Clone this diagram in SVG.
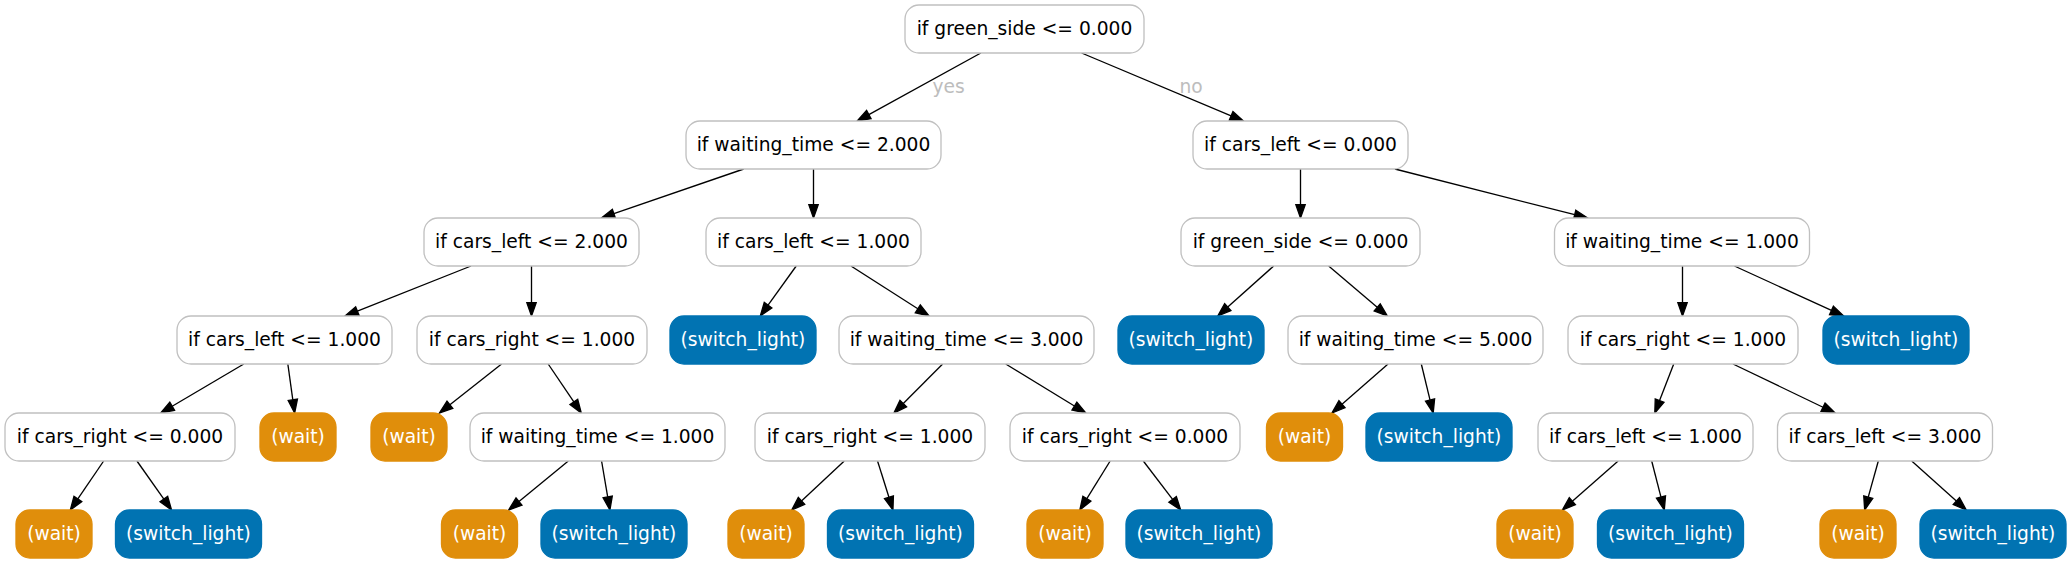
<svg xmlns="http://www.w3.org/2000/svg" width="2069" height="564" viewBox="0 0 2069 564">
<style>
text{font-family:"DejaVu Sans","Liberation Sans",sans-serif;font-size:18.67px;text-anchor:middle}
.d rect{fill:#fff;stroke:#c0c0c0;stroke-width:1.33}
.w rect{fill:#e08e0b;stroke:#e08e0b;stroke-width:1.33}
.s rect{fill:#0173b2;stroke:#0173b2;stroke-width:1.33}
.d text{fill:#000}
.w text,.s text{fill:#fff}
#edges line{stroke:#000;stroke-width:1.33;marker-end:url(#ah)}
.lbl{fill:#bdbdbd}
</style>
<defs>
<marker id="ah" markerUnits="userSpaceOnUse" markerWidth="16" markerHeight="12" refX="0" refY="4.67" orient="auto" overflow="visible">
<path d="M0,0 L13.33,4.67 L0,9.33 z" fill="#000" stroke="#000" stroke-width="1.33"/>
</marker>
</defs>
<rect width="2069" height="564" fill="#fff"/>
<g id="edges">
<line x1="980.84" y1="53" x2="868.84" y2="114.58"/>
<line x1="1081.6" y1="53" x2="1231.1" y2="115.84"/>
<line x1="743.73" y1="169" x2="613.88" y2="213.66"/>
<line x1="813.5" y1="169" x2="813.5" y2="204.67"/>
<line x1="1300.5" y1="169" x2="1300.5" y2="204.67"/>
<line x1="1394.88" y1="169" x2="1574.7" y2="214.71"/>
<line x1="471.01" y1="266" x2="357.38" y2="311.08"/>
<line x1="531.5" y1="266" x2="531.5" y2="302.67"/>
<line x1="796.23" y1="266" x2="768.06" y2="305.18"/>
<line x1="850.97" y1="266" x2="917.8" y2="308.81"/>
<line x1="1273.68" y1="266" x2="1227.75" y2="307.11"/>
<line x1="1328.66" y1="266" x2="1377.19" y2="307.35"/>
<line x1="1682.5" y1="266" x2="1682.5" y2="302.67"/>
<line x1="1734.41" y1="266" x2="1831.47" y2="310.45"/>
<line x1="243.8" y1="364" x2="172.18" y2="406.23"/>
<line x1="287.84" y1="364" x2="292.82" y2="399.8"/>
<line x1="501.57" y1="364" x2="449.9" y2="404.74"/>
<line x1="548.2" y1="364" x2="573.84" y2="401.95"/>
<line x1="942.63" y1="364" x2="903.27" y2="403.55"/>
<line x1="1005.71" y1="364" x2="1074.42" y2="406.04"/>
<line x1="1388.04" y1="364" x2="1342.0" y2="404.23"/>
<line x1="1421.31" y1="364" x2="1430.05" y2="400.04"/>
<line x1="1673.72" y1="364" x2="1659.59" y2="400.57"/>
<line x1="1732.97" y1="364" x2="1823.01" y2="407.23"/>
<line x1="103.67" y1="461" x2="77.83" y2="498.98"/>
<line x1="136.95" y1="461" x2="163.86" y2="499.11"/>
<line x1="568.31" y1="461" x2="518.99" y2="501.53"/>
<line x1="601.58" y1="461" x2="607.68" y2="496.86"/>
<line x1="844.27" y1="461" x2="801.48" y2="500.91"/>
<line x1="877.55" y1="461" x2="888.95" y2="497.29"/>
<line x1="1110.16" y1="461" x2="1086.85" y2="498.66"/>
<line x1="1143.31" y1="461" x2="1172.6" y2="499.4"/>
<line x1="1618.16" y1="461" x2="1572.36" y2="501.21"/>
<line x1="1651.69" y1="461" x2="1660.98" y2="497.09"/>
<line x1="1878.32" y1="461" x2="1868.25" y2="497.16"/>
<line x1="1911.72" y1="461" x2="1956.36" y2="501.1"/>
<text class="lbl" x="948.5" y="93">yes</text>
<text class="lbl" x="1191" y="93">no</text>
</g>
<g id="n0" class="d"><rect x="905" y="5" width="239" height="48" rx="14"/><text x="1024.5" y="35">if green_side &lt;= 0.000</text></g>
<g id="n1" class="d"><rect x="686" y="121" width="255" height="48" rx="14"/><text x="813.5" y="151">if waiting_time &lt;= 2.000</text></g>
<g id="n2" class="d"><rect x="1193" y="121" width="215" height="48" rx="14"/><text x="1300.5" y="151">if cars_left &lt;= 0.000</text></g>
<g id="n3" class="d"><rect x="424" y="218" width="215" height="48" rx="14"/><text x="531.5" y="248">if cars_left &lt;= 2.000</text></g>
<g id="n4" class="d"><rect x="706" y="218" width="215" height="48" rx="14"/><text x="813.5" y="248">if cars_left &lt;= 1.000</text></g>
<g id="n5" class="d"><rect x="1181" y="218" width="239" height="48" rx="14"/><text x="1300.5" y="248">if green_side &lt;= 0.000</text></g>
<g id="n6" class="d"><rect x="1554.5" y="218" width="255" height="48" rx="14"/><text x="1682" y="248">if waiting_time &lt;= 1.000</text></g>
<g id="n7" class="d"><rect x="177" y="316" width="215" height="48" rx="14"/><text x="284.5" y="346">if cars_left &lt;= 1.000</text></g>
<g id="n8" class="d"><rect x="417" y="316" width="230" height="48" rx="14"/><text x="532" y="346">if cars_right &lt;= 1.000</text></g>
<g id="n9" class="s"><rect x="670" y="316" width="146" height="48" rx="14"/><text x="743" y="346">(switch_light)</text></g>
<g id="n10" class="d"><rect x="839" y="316" width="255" height="48" rx="14"/><text x="966.5" y="346">if waiting_time &lt;= 3.000</text></g>
<g id="n11" class="s"><rect x="1118" y="316" width="146" height="48" rx="14"/><text x="1191" y="346">(switch_light)</text></g>
<g id="n12" class="d"><rect x="1288" y="316" width="255" height="48" rx="14"/><text x="1415.5" y="346">if waiting_time &lt;= 5.000</text></g>
<g id="n13" class="d"><rect x="1568" y="316" width="230" height="48" rx="14"/><text x="1683" y="346">if cars_right &lt;= 1.000</text></g>
<g id="n14" class="s"><rect x="1823" y="316" width="146" height="48" rx="14"/><text x="1896" y="346">(switch_light)</text></g>
<g id="n15" class="d"><rect x="5" y="413" width="230" height="48" rx="14"/><text x="120" y="443">if cars_right &lt;= 0.000</text></g>
<g id="n16" class="w"><rect x="260" y="413" width="76" height="48" rx="14"/><text x="298" y="443">(wait)</text></g>
<g id="n17" class="w"><rect x="371" y="413" width="76" height="48" rx="14"/><text x="409" y="443">(wait)</text></g>
<g id="n18" class="d"><rect x="470" y="413" width="255" height="48" rx="14"/><text x="597.5" y="443">if waiting_time &lt;= 1.000</text></g>
<g id="n19" class="d"><rect x="755" y="413" width="230" height="48" rx="14"/><text x="870" y="443">if cars_right &lt;= 1.000</text></g>
<g id="n20" class="d"><rect x="1010" y="413" width="230" height="48" rx="14"/><text x="1125" y="443">if cars_right &lt;= 0.000</text></g>
<g id="n21" class="w"><rect x="1266.5" y="413" width="76" height="48" rx="14"/><text x="1304.5" y="443">(wait)</text></g>
<g id="n22" class="s"><rect x="1366" y="413" width="146" height="48" rx="14"/><text x="1439" y="443">(switch_light)</text></g>
<g id="n23" class="d"><rect x="1538" y="413" width="215" height="48" rx="14"/><text x="1645.5" y="443">if cars_left &lt;= 1.000</text></g>
<g id="n24" class="d"><rect x="1777.5" y="413" width="215" height="48" rx="14"/><text x="1885" y="443">if cars_left &lt;= 3.000</text></g>
<g id="n25" class="w"><rect x="16" y="510" width="76" height="48" rx="14"/><text x="54" y="540">(wait)</text></g>
<g id="n26" class="s"><rect x="115.5" y="510" width="146" height="48" rx="14"/><text x="188.5" y="540">(switch_light)</text></g>
<g id="n27" class="w"><rect x="441.5" y="510" width="76" height="48" rx="14"/><text x="479.5" y="540">(wait)</text></g>
<g id="n28" class="s"><rect x="541" y="510" width="146" height="48" rx="14"/><text x="614" y="540">(switch_light)</text></g>
<g id="n29" class="w"><rect x="728" y="510" width="76" height="48" rx="14"/><text x="766" y="540">(wait)</text></g>
<g id="n30" class="s"><rect x="827.5" y="510" width="146" height="48" rx="14"/><text x="900.5" y="540">(switch_light)</text></g>
<g id="n31" class="w"><rect x="1027" y="510" width="76" height="48" rx="14"/><text x="1065" y="540">(wait)</text></g>
<g id="n32" class="s"><rect x="1126" y="510" width="146" height="48" rx="14"/><text x="1199" y="540">(switch_light)</text></g>
<g id="n33" class="w"><rect x="1497" y="510" width="76" height="48" rx="14"/><text x="1535" y="540">(wait)</text></g>
<g id="n34" class="s"><rect x="1597.5" y="510" width="146" height="48" rx="14"/><text x="1670.5" y="540">(switch_light)</text></g>
<g id="n35" class="w"><rect x="1820" y="510" width="76" height="48" rx="14"/><text x="1858" y="540">(wait)</text></g>
<g id="n36" class="s"><rect x="1920" y="510" width="146" height="48" rx="14"/><text x="1993" y="540">(switch_light)</text></g>
</svg>
